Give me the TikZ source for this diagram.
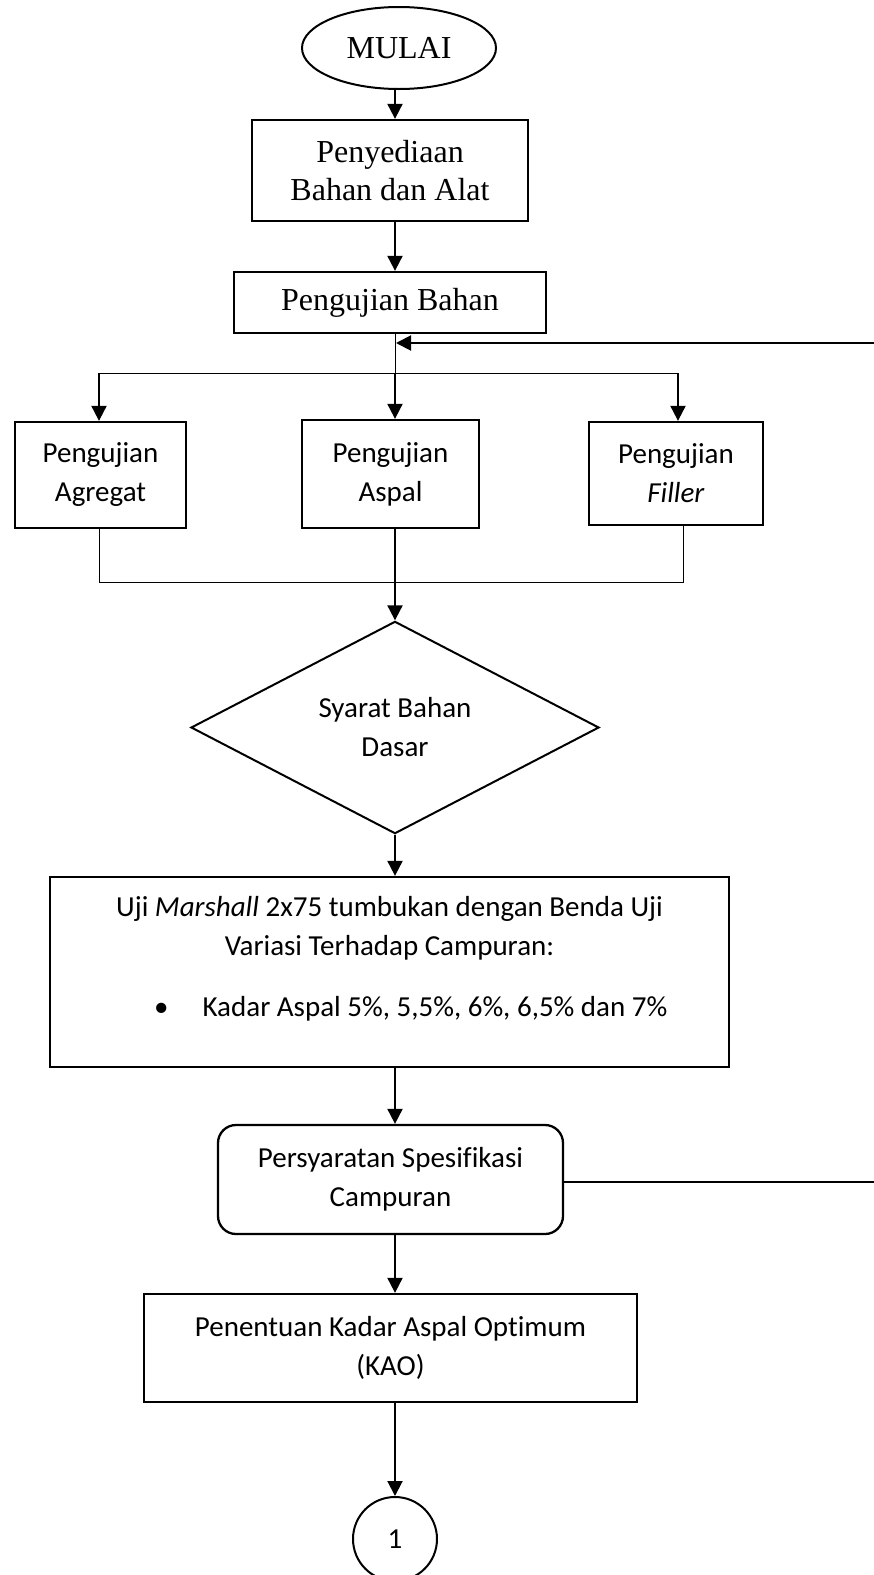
\documentclass[tikz,border=0pt]{standalone}
\usepackage{fontspec}
\setmainfont{Liberation Serif}
\newfontfamily\calfont[Ligatures=NoCommon]{Carlito}
\usetikzlibrary{shapes.geometric,arrows.meta}
\begin{document}
\begin{tikzpicture}[x=1pt,y=-1pt,
  box/.style={draw,line width=2.3pt,inner sep=0pt,align=center},
  serif/.style={font=\fontsize{32}{38}\selectfont},
  sans/.style={font=\calfont\fontsize{29}{39}\selectfont},
  arr/.style={line width=2pt,-{Triangle[length=15pt,width=15pt]}},
  thinl/.style={line width=1pt}]
\useasboundingbox (0,0) rectangle (874,1575);

% nodes
\node[draw,ellipse,line width=2pt,minimum width=194pt,minimum height=82pt,inner sep=0pt,serif] (start) at (399,48) {MULAI};
\node[box,serif,minimum width=276pt,minimum height=101pt] (prep) at (390,170.5) {Penyediaan\\Bahan dan Alat};
\node[box,serif,minimum width=312pt,minimum height=61pt] (test) at (390,302.5) {Pengujian Bahan};

\node[box,sans,minimum width=171pt,minimum height=106pt] (agg) at (100.5,475) {Pengujian\\Agregat};
\node[box,sans,minimum width=177pt,minimum height=108pt] (asp) at (390.5,474) {Pengujian\\Aspal};
\node[box,sans,minimum width=174pt,minimum height=103pt] (fil) at (676,473.5) {Pengujian\\\textit{Filler}};

\node[draw,diamond,line width=2pt,minimum width=408pt,minimum height=183pt,inner sep=0pt,sans,align=center] (dia) at (395,727.5) {Syarat Bahan\\Dasar};

\node[box,minimum width=679pt,minimum height=190pt] (mar) at (389.5,972) {};
\node[sans,anchor=base] (marA) at (389.5,916) {Uji \textit{Marshall} 2x75 tumbukan dengan Benda Uji};
\node[sans,anchor=base] (marB) at (389.5,955) {Variasi Terhadap Campuran:};
\node[sans,anchor=base west,inner sep=0pt] (marC) at (154,1016) {\textbullet\hspace{34pt}Kadar Aspal 5\%, 5,5\%, 6\%, 6,5\% dan 7\%};

\node[box,sans,rounded corners=18pt,minimum width=345pt,minimum height=109pt] (spec) at (390.5,1179.5) {Persyaratan Spesifikasi\\Campuran};
\node[box,sans,minimum width=493pt,minimum height=108pt] (kao) at (390.5,1348) {Penentuan Kadar Aspal Optimum\\(KAO)};
\node[draw,circle,line width=2pt,minimum size=84pt,inner sep=0pt,sans] (con) at (395,1539) {1};

% helper coordinates
\coordinate (c) at (395,0);
\coordinate (br) at (395,373);
\coordinate (brL) at (99,373);
\coordinate (brR) at (678,373);
\coordinate (jnL) at (99,582);
\coordinate (jnR) at (683,582);
\coordinate (fbR) at (874,343);
\coordinate (fbL) at (396,343);
\coordinate (fbR2) at (874,1182);

% connectors
\draw[arr] (start.south -| c) -- (prep.north -| c);
\draw[arr] (prep.south -| c) -- (test.north -| c);
\draw[thinl] (test.south -| c) -- (br);
\draw[thinl] (brL) -- (brR);
\draw[arr] (br) -- (asp.north -| br);
\draw[arr] (brL) -- (agg.north -| brL);
\draw[arr] (brR) -- (fil.north -| brR);
\draw[arr] (fbR) -- (fbL);
\draw[thinl] (agg.south -| jnL) -- (jnL) -- (jnR) -- (fil.south -| jnR);
\draw[arr] (asp.south -| br) -- (dia.north);
\draw[arr] (dia.south) -- (mar.north -| dia.south);
\draw[arr] (mar.south -| c) -- (spec.north -| c);
\draw[arr] (spec.south -| c) -- (kao.north -| c);
\draw[arr] (kao.south -| c) -- (con.north);
\draw[line width=1.2pt] (spec.east |- fbR2) -- (fbR2);
\end{tikzpicture}
\end{document}
